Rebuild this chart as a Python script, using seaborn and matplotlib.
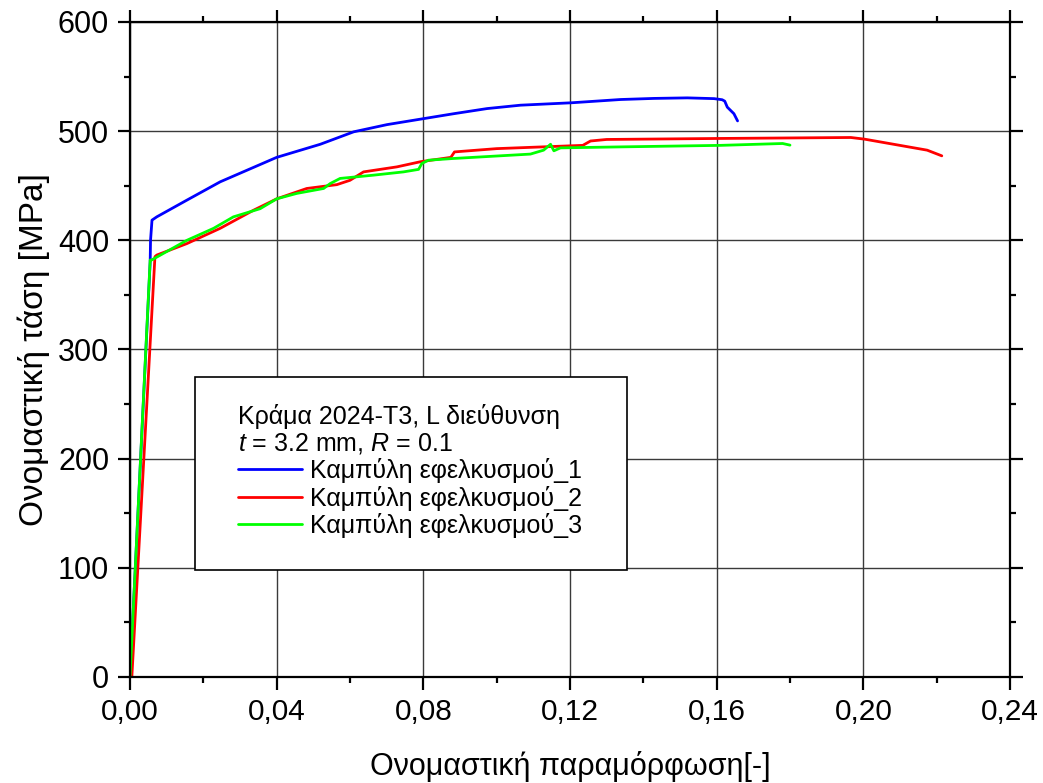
import matplotlib
matplotlib.use("Agg")
import matplotlib.pyplot as plt
import seaborn as sns
import pandas as pd
from matplotlib.ticker import MultipleLocator, FuncFormatter
from matplotlib.patches import Rectangle

# ---- data ----
x_curve1 = [0.0, 0.0055, 0.0056, 0.0060, 0.0073, 0.0155, 0.0246, 0.040, 0.0519, 0.061,
            0.0701, 0.0792, 0.0883, 0.0974, 0.1065, 0.1204, 0.1338, 0.1429, 0.152,
            0.1593, 0.1615, 0.1622, 0.1629, 0.1647, 0.1657]
y_curve1 = [0, 380, 400, 418.5, 421.5, 436.8, 453.6, 476, 488, 499.4,
            506, 511, 516, 520.7, 523.8, 526, 529, 530, 530.5,
            529.8, 528.8, 527.5, 522, 516, 509.4]

x_curve2 = [0.0005, 0.0068, 0.0073, 0.0155, 0.0246, 0.0337, 0.040, 0.0482, 0.0564,
            0.0600, 0.0637, 0.0728, 0.0792, 0.0875, 0.0885, 0.100, 0.1235, 0.1256,
            0.130, 0.160, 0.1966, 0.2003, 0.2174, 0.2214]
y_curve2 = [0, 385, 386.5, 397, 411, 427.6, 438, 447.5, 451,
            455, 462.7, 467.3, 472, 476, 481, 484, 487, 491,
            492.4, 493.3, 494.2, 492.7, 482.6, 477.4]

x_curve3 = [0.0, 0.0055, 0.0059, 0.0099, 0.0155, 0.0228, 0.0282, 0.0355, 0.040, 0.0455,
            0.0528, 0.0546, 0.0573, 0.0664, 0.0746, 0.0787, 0.0796, 0.0814, 0.0883,
            0.1092, 0.1128, 0.1147, 0.1156, 0.1174, 0.1338, 0.1611, 0.178, 0.180]
y_curve3 = [0, 382, 382, 389.5, 400, 411, 421.5, 429, 438, 443,
            447.5, 452, 456.7, 459.7, 462.7, 465, 470.4, 473.4, 475,
            479, 482.6, 488, 482, 484.7, 485.6, 487, 488.7, 487.2]

series_names = ["Καμπύλη εφελκυσμού_1", "Καμπύλη εφελκυσμού_2", "Καμπύλη εφελκυσμού_3"]
series_colors = ["#0000FF", "#FF0000", "#00FF00"]
legend_title = "Κράμα 2024-T3, L διεύθυνση\n$t$ = 3.2 mm, $R$ = 0.1"
x_label = "Ονομαστική παραμόρφωση[-]"
y_label = "Ονομαστική τάση [MPa]"

# ---- build long-form table ----
frames = []
for name, xs, ys in zip(series_names,
                        [x_curve1, x_curve2, x_curve3],
                        [y_curve1, y_curve2, y_curve3]):
    frames.append(pd.DataFrame({"strain": xs, "stress": ys, "curve": name}))
df = pd.concat(frames, ignore_index=True)

sns.set_theme(style="white")
plt.rcParams["font.family"] = ["Liberation Sans", "DejaVu Sans"]
plt.rcParams["mathtext.fontset"] = "custom"
plt.rcParams["mathtext.rm"] = "Liberation Sans"
plt.rcParams["mathtext.it"] = "Liberation Sans:italic"
plt.rcParams["text.color"] = "black"
plt.rcParams["axes.labelcolor"] = "black"
plt.rcParams["xtick.color"] = "black"
plt.rcParams["ytick.color"] = "black"

W, H = 1043, 783
fig = plt.figure(figsize=(W / 100, H / 100), dpi=100)
ax = fig.add_axes([130 / W, 1 - 677 / H, 880 / W, 655 / H])

sns.lineplot(data=df, x="strain", y="stress", hue="curve", hue_order=series_names,
             palette=series_colors, sort=False, estimator=None, units="curve",
             linewidth=2.0, ax=ax, legend=True)

ax.set_xlim(0, 0.24)
ax.set_ylim(0, 600)
ax.xaxis.set_major_locator(MultipleLocator(0.04))
ax.xaxis.set_minor_locator(MultipleLocator(0.02))
ax.yaxis.set_major_locator(MultipleLocator(100))
ax.yaxis.set_minor_locator(MultipleLocator(50))
ax.xaxis.set_major_formatter(FuncFormatter(lambda v, p: f"{v:.2f}".replace(".", ",")))

ax.grid(True, which="major", color="#3a3a3a", linewidth=1.0)
ax.set_axisbelow(True)
for s in ax.spines.values():
    s.set_visible(True)
    s.set_color("black")
    s.set_linewidth(1.6)

ax.tick_params(which="both", direction="out", top=True, right=True,
               bottom=True, left=True, color="black", width=1.6)
ax.tick_params(axis="x", which="major", length=9, labelsize=21.5, pad=6)
ax.tick_params(axis="y", which="major", length=9, labelsize=22, pad=6)
ax.tick_params(which="minor", length=4.5)

ax.set_xlabel(x_label, fontsize=22, labelpad=18)
ax.set_ylabel(y_label, fontsize=24, labelpad=6)

# legend box (frame drawn separately to reproduce its padding)
box = Rectangle((195 / W, 1 - 570 / H), 432 / W, 193 / H, transform=fig.transFigure,
                facecolor="white", edgecolor="black", linewidth=1.2, zorder=4,
                clip_on=False)
ax.add_patch(box)

handles, labels = ax.get_legend_handles_labels()
leg = ax.legend(handles, labels, title=legend_title, alignment="left",
                loc="upper left", bbox_to_anchor=(238 / W, 1 - 404 / H),
                bbox_transform=fig.transFigure,
                borderaxespad=0, borderpad=0, frameon=False,
                fontsize=18, title_fontsize=18, handlelength=2.55,
                handletextpad=0.33, labelspacing=0.1)
leg.set_zorder(6)
for line in leg.get_lines():
    line.set_linewidth(2.0)
leg.get_title().set_linespacing(1.08)

fig.savefig("out.png", dpi=100)
